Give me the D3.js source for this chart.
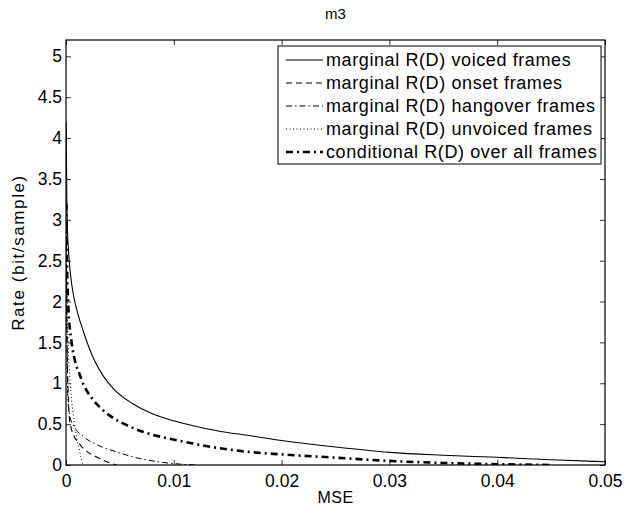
<!DOCTYPE html>
<html>
<head>
<meta charset="utf-8">
<script src="https://cdn.jsdelivr.net/npm/d3@7"></script>
<style>
  body { margin: 0; background: #fff; }
  text { font-family: "Liberation Sans", Arial, sans-serif; fill: #000; }
</style>
</head>
<body>
<svg id="chart" width="628" height="508"></svg>
<script>
// MSE (x) and rate (y)
const voicedD   = [0.00002, 0.00005, 0.00012, 0.0003, 0.0006, 0.0011, 0.0016, 0.0021, 0.0026, 0.0034, 0.0045, 0.0062, 0.0078, 0.0095, 0.0115, 0.014, 0.017, 0.02, 0.025, 0.03, 0.035, 0.04, 0.045, 0.05];
const voicedR   = [4.2, 3.6, 2.93, 2.5, 2.15, 1.85, 1.64, 1.45, 1.29, 1.1, 0.92, 0.75, 0.64, 0.56, 0.49, 0.42, 0.36, 0.30, 0.22, 0.155, 0.12, 0.094, 0.065, 0.04];

const onsetD    = [0.00002, 0.0001, 0.0003, 0.0005, 0.0013, 0.002, 0.0028, 0.0038, 0.0047];
const onsetR    = [2.8, 1.5, 0.6, 0.44, 0.25, 0.16, 0.10, 0.04, 0.0];

const hangD     = [0.00002, 0.0001, 0.0002, 0.0004, 0.0008, 0.0016, 0.003, 0.0047, 0.0065, 0.0085, 0.0105, 0.012];
const hangR     = [2.9, 1.4, 0.75, 0.58, 0.46, 0.35, 0.24, 0.16, 0.09, 0.04, 0.012, 0.0];

const unvoicedD = [0.00003, 0.0001, 0.0002, 0.0004, 0.0008, 0.0012, 0.0016];
const unvoicedR = [2.8, 2.0, 1.5, 1.0, 0.5, 0.2, 0.0];

const condD     = [0.00003, 0.0001, 0.0002, 0.0005, 0.0014, 0.0025, 0.0032, 0.004, 0.0056, 0.0075, 0.0093, 0.0115, 0.0140, 0.017, 0.02, 0.025, 0.03, 0.035, 0.04, 0.045];
const condR     = [3.2, 2.4, 2.0, 1.52, 1.06, 0.80, 0.70, 0.61, 0.49, 0.39, 0.33, 0.27, 0.21, 0.16, 0.13, 0.09, 0.05, 0.025, 0.01, 0.0];

const xTicks = [0, 0.01, 0.02, 0.03, 0.04, 0.05];
const yTicks = [0, 0.5, 1, 1.5, 2, 2.5, 3, 3.5, 4, 4.5, 5];

const series = [
  { name: "marginal R(D) voiced frames",   d: voicedD,   r: voicedR,   width: 1.1, dash: null },
  { name: "marginal R(D) onset frames",    d: onsetD,    r: onsetR,    width: 1.1, dash: "6,4" },
  { name: "marginal R(D) hangover frames", d: hangD,     r: hangR,     width: 1,   dash: "6,3,1.5,3" },
  { name: "marginal R(D) unvoiced frames", d: unvoicedD, r: unvoicedR, width: 1,   dash: "1,2.5" },
  { name: "conditional R(D) over all frames", d: condD, r: condR,      width: 2.6, dash: "7,4,2,4" }
];

const margin = { top: 40, right: 23, bottom: 43, left: 66 };
const width = 628, height = 508;
const innerW = width - margin.left - margin.right;
const innerH = height - margin.top - margin.bottom;

const svg = d3.select("#chart");
const g = svg.append("g").attr("transform", `translate(${margin.left},${margin.top})`);

const x = d3.scaleLinear().domain([0, 0.05]).range([0, innerW]);
const y = d3.scaleLinear().domain([0, 5.2]).range([innerH, 0]);

// clip so curves stay inside the axes
g.append("clipPath").attr("id", "clip")
  .append("rect").attr("width", innerW).attr("height", innerH);

// axes, MATLAB style ticks pointing inward
g.append("g").attr("transform", `translate(0,${innerH})`)
  .call(d3.axisBottom(x).tickValues(xTicks).tickFormat(d => +d.toFixed(2)).tickSizeInner(-5).tickSizeOuter(0).tickPadding(10));
g.append("g")
  .call(d3.axisLeft(y).tickValues(yTicks).tickFormat(d => d).tickSizeInner(-5).tickSizeOuter(0).tickPadding(4));
g.append("g")
  .call(d3.axisTop(x).tickValues(xTicks).tickFormat("").tickSizeInner(-5).tickSizeOuter(0));
g.append("g").attr("transform", `translate(${innerW},0)`)
  .call(d3.axisRight(y).tickValues(yTicks).tickFormat("").tickSizeInner(-5).tickSizeOuter(0));

g.selectAll(".domain").remove();
g.selectAll(".tick line").attr("stroke", "#000").attr("stroke-width", 0.8);
g.selectAll(".tick text").attr("font-size", 17.5).attr("fill", "#000");

g.append("rect")
  .attr("width", innerW).attr("height", innerH)
  .attr("fill", "none").attr("stroke", "#000").attr("stroke-width", 1.2);

// curves
const line = d3.line()
  .x(p => x(p[0]))
  .y(p => y(p[1]))
  .curve(d3.curveMonotoneX);

const plot = g.append("g").attr("clip-path", "url(#clip)");
series.forEach(s => {
  plot.append("path")
    .datum(d3.zip(s.d, s.r))
    .attr("d", line)
    .attr("fill", "none")
    .attr("stroke", "#000")
    .attr("stroke-width", s.width)
    .attr("stroke-dasharray", s.dash);
});

// labels
svg.append("text").attr("x", margin.left + innerW / 2).attr("y", 19)
  .attr("text-anchor", "middle").attr("font-size", 15).text("m3");
svg.append("text").attr("x", margin.left + innerW / 2).attr("y", 503)
  .attr("text-anchor", "middle").attr("font-size", 16).attr("letter-spacing", 0.5).text("MSE");
svg.append("text")
  .attr("transform", `translate(24,${margin.top + innerH / 2}) rotate(-90)`)
  .attr("text-anchor", "middle").attr("font-size", 17).attr("letter-spacing", 1.6).text("Rate (bit/sample)");

// legend
const legend = svg.append("g").attr("transform", "translate(278,46)");
legend.append("rect")
  .attr("width", 323).attr("height", 118)
  .attr("fill", "#fff").attr("stroke", "#000").attr("stroke-width", 1);
series.forEach((s, i) => {
  const yy = 14 + i * 23;
  legend.append("line")
    .attr("x1", 8).attr("x2", 45).attr("y1", yy).attr("y2", yy)
    .attr("stroke", "#000")
    .attr("stroke-width", s.width)
    .attr("stroke-dasharray", s.dash);
  legend.append("text")
    .attr("x", 48).attr("y", yy).attr("dy", "0.35em")
    .attr("font-size", 18).attr("letter-spacing", 0.6).text(s.name);
});
</script>
</body>
</html>
